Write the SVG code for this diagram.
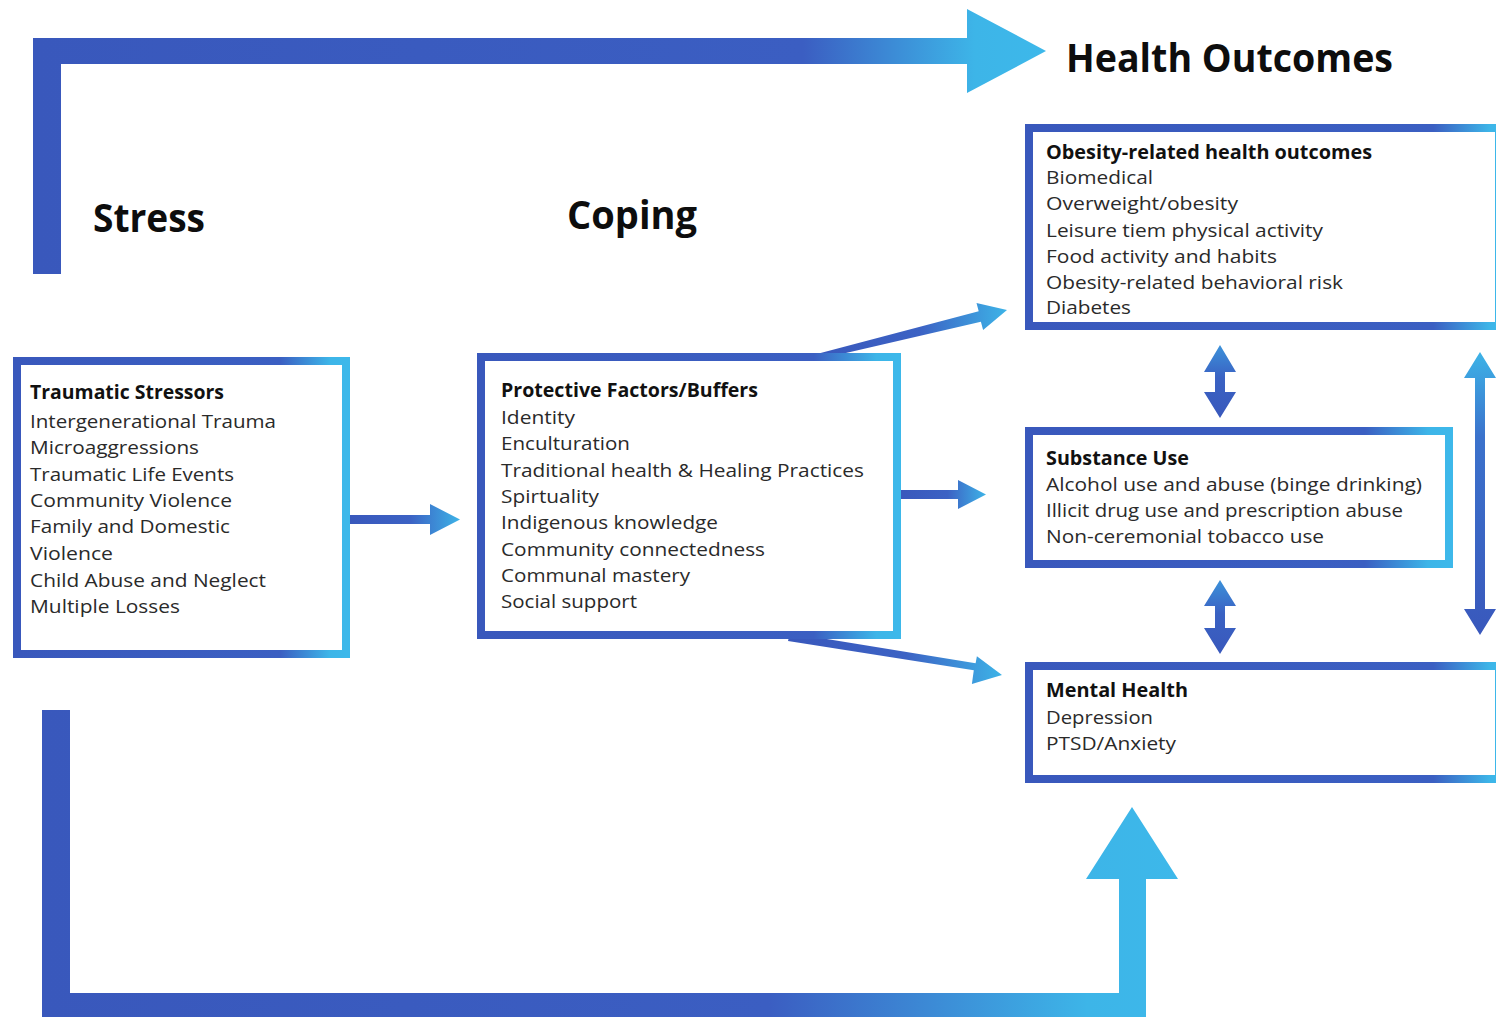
<svg xmlns="http://www.w3.org/2000/svg" width="1496" height="1017" viewBox="0 0 1496 1017">
  <defs>
    <!-- box borders: deep blue that turns sky blue toward the right edge -->
    <linearGradient id="boxGrad" x1="0" y1="0" x2="1" y2="0">
      <stop offset="0" stop-color="#3958BC"/>
      <stop offset="0.8" stop-color="#3B5FC2"/>
      <stop offset="0.95" stop-color="#3DB5E8"/>
      <stop offset="1" stop-color="#3DB8EA"/>
    </linearGradient>
    <linearGradient id="wideBoxGrad" x1="0" y1="0" x2="1" y2="0">
      <stop offset="0" stop-color="#3958BC"/>
      <stop offset="0.86" stop-color="#3B5FC2"/>
      <stop offset="0.98" stop-color="#3DB5E8"/>
      <stop offset="1" stop-color="#3DB8EA"/>
    </linearGradient>
    <!-- small connector arrows -->
    <linearGradient id="arrowGrad" x1="0" y1="0" x2="1" y2="0">
      <stop offset="0" stop-color="#3958BC"/>
      <stop offset="0.55" stop-color="#3C62C4"/>
      <stop offset="1" stop-color="#3DB3E7"/>
    </linearGradient>
    <linearGradient id="vertGrad" x1="0" y1="0" x2="0" y2="1">
      <stop offset="0" stop-color="#3C92DA"/>
      <stop offset="0.45" stop-color="#3A62C3"/>
      <stop offset="1" stop-color="#3958BC"/>
    </linearGradient>
    <linearGradient id="sideGrad" x1="0" y1="0" x2="0" y2="1">
      <stop offset="0" stop-color="#3DB3E7"/>
      <stop offset="0.3" stop-color="#3B72CC"/>
      <stop offset="1" stop-color="#3958BC"/>
    </linearGradient>
    <!-- large frame arrows -->
    <linearGradient id="topGrad" gradientUnits="userSpaceOnUse" x1="33" y1="0" x2="1046" y2="0">
      <stop offset="0" stop-color="#3958BC"/>
      <stop offset="0.76" stop-color="#3B5EC2"/>
      <stop offset="0.93" stop-color="#3DB5E8"/>
      <stop offset="1" stop-color="#3DB8EA"/>
    </linearGradient>
    <linearGradient id="bottomGrad" gradientUnits="userSpaceOnUse" x1="42" y1="0" x2="1178" y2="0">
      <stop offset="0" stop-color="#3958BC"/>
      <stop offset="0.64" stop-color="#3B5EC2"/>
      <stop offset="0.92" stop-color="#3DB5E8"/>
      <stop offset="1" stop-color="#3DB8EA"/>
    </linearGradient>
    <style>
      .box { fill: #ffffff; stroke: url(#boxGrad); stroke-width: 8; }
      .wide { stroke: url(#wideBoxGrad); }
      .head { font-family: "Open Sans", "Liberation Sans", sans-serif; font-weight: 700; font-size: 19px; fill: #111111; }
      .item { font-family: "Open Sans", "Liberation Sans", sans-serif; font-size: 19px; fill: #2A2A2A; }
      .stage { font-family: "Open Sans", "Liberation Sans", sans-serif; font-weight: 700; font-size: 40px; fill: #0D0D0D; }
    </style>
  </defs>

  <rect width="1496" height="1017" fill="#ffffff"/>

  <!-- connectors -->
  <g id="connectors">
    <!-- stress frame arrow along the top -->
    <path d="M33,38 H967 V9 L1046,51 L967,93 V64 H61 V274 H33 Z" fill="url(#topGrad)"/>
    <!-- frame arrow along the bottom into mental health -->
    <path d="M42,710 H70 V993 H1119 V879 H1086 L1132,807 L1178,879 H1146 V1025 H42 Z" fill="url(#bottomGrad)"/>
    <!-- stressors to coping -->
    <polygon points="350,515 430,515 430,504 460,519.5 430,535 430,524 350,524" fill="url(#arrowGrad)"/>
    <!-- coping to obesity outcomes -->
    <polygon points="813,355 978.7,311.2 976.5,302.9 1007,310 983.1,330.1 980.9,321.8 820,359" fill="url(#arrowGrad)"/>
    <!-- coping to substance use -->
    <polygon points="901,490 958,490 958,480 986,494.5 958,509 958,499 901,499" fill="url(#arrowGrad)"/>
    <!-- coping to mental health -->
    <polygon points="790,633 975.6,663.3 976.9,656.3 1002,675 971.9,683.9 973.8,670.3 788,641" fill="url(#arrowGrad)"/>
    <!-- obesity outcomes <-> substance use -->
    <polygon points="1220,345 1236,372 1225,372 1225,392 1236,392 1220,418 1204,392 1215,392 1215,372 1204,372" fill="url(#vertGrad)"/>
    <!-- substance use <-> mental health -->
    <polygon points="1220,580 1236,606 1225,606 1225,628 1236,628 1220,654 1204,628 1215,628 1215,606 1204,606" fill="url(#vertGrad)"/>
    <!-- obesity outcomes <-> mental health -->
    <polygon points="1480,352 1496,378 1485,378 1485,609 1496,609 1480,635 1464,609 1475,609 1475,378 1464,378" fill="url(#sideGrad)"/>
  </g>

  <!-- stage labels -->
  <g id="stage-stress">
    <text class="stage" x="93" y="232" textLength="112" lengthAdjust="spacingAndGlyphs">Stress</text>
  </g>
  <g id="stage-coping">
    <text class="stage" x="567" y="229" textLength="130" lengthAdjust="spacingAndGlyphs">Coping</text>
  </g>
  <g id="stage-health-outcomes">
    <text class="stage" x="1066" y="72" textLength="327" lengthAdjust="spacingAndGlyphs">Health Outcomes</text>
  </g>

  <!-- traumatic stressors -->
  <g id="traumatic-stressors">
    <rect class="box" x="17" y="361" width="329" height="293"/>
    <text class="head" x="30" y="399" textLength="194" lengthAdjust="spacingAndGlyphs">Traumatic Stressors</text>
    <text class="item" x="30" y="428" textLength="246" lengthAdjust="spacingAndGlyphs">Intergenerational Trauma</text>
    <text class="item" x="30" y="454" textLength="169" lengthAdjust="spacingAndGlyphs">Microaggressions</text>
    <text class="item" x="30" y="481" textLength="204" lengthAdjust="spacingAndGlyphs">Traumatic Life Events</text>
    <text class="item" x="30" y="507" textLength="202" lengthAdjust="spacingAndGlyphs">Community Violence</text>
    <text class="item" x="30" y="533" textLength="200" lengthAdjust="spacingAndGlyphs">Family and Domestic</text>
    <text class="item" x="30" y="560" textLength="83" lengthAdjust="spacingAndGlyphs">Violence</text>
    <text class="item" x="30" y="587" textLength="236" lengthAdjust="spacingAndGlyphs">Child Abuse and Neglect</text>
    <text class="item" x="30" y="613" textLength="150" lengthAdjust="spacingAndGlyphs">Multiple Losses</text>
  </g>

  <!-- protective factors -->
  <g id="protective-factors">
    <rect class="box" x="481" y="357" width="416" height="278"/>
    <text class="head" x="501" y="397" textLength="257" lengthAdjust="spacingAndGlyphs">Protective Factors/Buffers</text>
    <text class="item" x="501" y="424" textLength="74" lengthAdjust="spacingAndGlyphs">Identity</text>
    <text class="item" x="501" y="450" textLength="129" lengthAdjust="spacingAndGlyphs">Enculturation</text>
    <text class="item" x="501" y="477" textLength="363" lengthAdjust="spacingAndGlyphs">Traditional health &amp; Healing Practices</text>
    <text class="item" x="501" y="503" textLength="98" lengthAdjust="spacingAndGlyphs">Spirtuality</text>
    <text class="item" x="501" y="529" textLength="217" lengthAdjust="spacingAndGlyphs">Indigenous knowledge</text>
    <text class="item" x="501" y="556" textLength="264" lengthAdjust="spacingAndGlyphs">Community connectedness</text>
    <text class="item" x="501" y="582" textLength="189" lengthAdjust="spacingAndGlyphs">Communal mastery</text>
    <text class="item" x="501" y="608" textLength="136" lengthAdjust="spacingAndGlyphs">Social support</text>
  </g>

  <!-- obesity-related outcomes -->
  <g id="obesity-outcomes">
    <rect class="box wide" x="1029" y="128" width="470" height="198"/>
    <text class="head" x="1046" y="159" textLength="326" lengthAdjust="spacingAndGlyphs">Obesity-related health outcomes</text>
    <text class="item" x="1046" y="184" textLength="107" lengthAdjust="spacingAndGlyphs">Biomedical</text>
    <text class="item" x="1046" y="210" textLength="192" lengthAdjust="spacingAndGlyphs">Overweight/obesity</text>
    <text class="item" x="1046" y="237" textLength="277" lengthAdjust="spacingAndGlyphs">Leisure tiem physical activity</text>
    <text class="item" x="1046" y="263" textLength="231" lengthAdjust="spacingAndGlyphs">Food activity and habits</text>
    <text class="item" x="1046" y="289" textLength="297" lengthAdjust="spacingAndGlyphs">Obesity-related behavioral risk</text>
    <text class="item" x="1046" y="314" textLength="85" lengthAdjust="spacingAndGlyphs">Diabetes</text>
  </g>

  <!-- substance use -->
  <g id="substance-use">
    <rect class="box" x="1029" y="431" width="420" height="133"/>
    <text class="head" x="1046" y="465" textLength="143" lengthAdjust="spacingAndGlyphs">Substance Use</text>
    <text class="item" x="1046" y="491" textLength="376" lengthAdjust="spacingAndGlyphs">Alcohol use and abuse (binge drinking)</text>
    <text class="item" x="1046" y="517" textLength="357" lengthAdjust="spacingAndGlyphs">Illicit drug use and prescription abuse</text>
    <text class="item" x="1046" y="543" textLength="278" lengthAdjust="spacingAndGlyphs">Non-ceremonial tobacco use</text>
  </g>

  <!-- mental health -->
  <g id="mental-health">
    <rect class="box wide" x="1029" y="666" width="470" height="113"/>
    <text class="head" x="1046" y="697" textLength="142" lengthAdjust="spacingAndGlyphs">Mental Health</text>
    <text class="item" x="1046" y="724" textLength="107" lengthAdjust="spacingAndGlyphs">Depression</text>
    <text class="item" x="1046" y="750" textLength="130" lengthAdjust="spacingAndGlyphs">PTSD/Anxiety</text>
  </g>
</svg>
